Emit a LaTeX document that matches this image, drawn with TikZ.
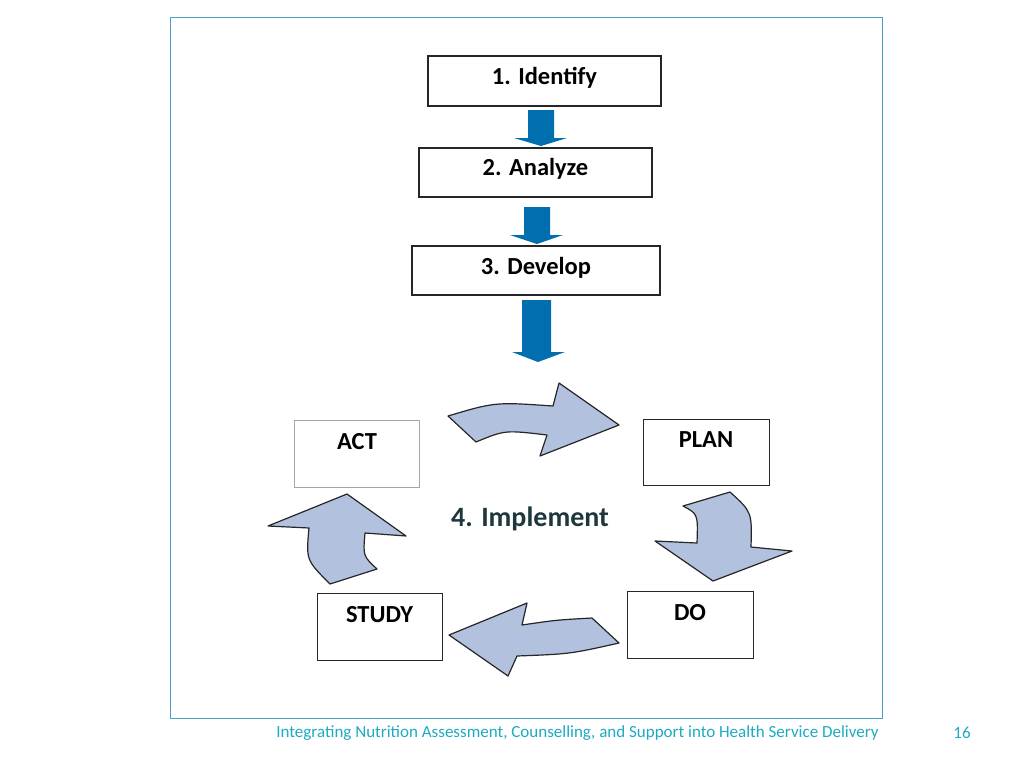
\documentclass[tikz,border=0pt]{standalone}
\usepackage{fontspec}
\setmainfont{Carlito}
\definecolor{frameblue}{RGB}{75,160,200}
\definecolor{footteal}{RGB}{30,170,195}
\definecolor{arrowblue}{RGB}{0,110,175}
\definecolor{cyclefill}{RGB}{178,193,221}
\definecolor{impl}{RGB}{30,55,60}
\begin{document}
\begin{tikzpicture}[x=1pt,y=-1pt,
  stepbox/.style={draw=black!85,line width=1.1pt,fill=white,inner sep=0pt},
  lbl/.style={font=\bfseries\fontsize{24.5}{28}\selectfont,text=black},
  bluearrow/.style={fill=arrowblue,draw=none},
  cyclearrow/.style={fill=cyclefill,draw=black!85,line width=1.2pt,line join=round}]
\useasboundingbox (0,0) rectangle (1024,768);
\draw[frameblue,line width=0.8pt] (170,17) rectangle (882,718);
% top boxes
\node[stepbox,minimum width=233pt,minimum height=50pt] (identify) at (544.5,81) {};
\node[lbl] at (544.5,78) {1. Identify};
\node[stepbox,minimum width=233pt,minimum height=49pt] (analyze) at (535.5,172.5) {};
\node[lbl] at (535.5,169) {2. Analyze};
\node[stepbox,minimum width=248pt,minimum height=49pt] (develop) at (536,270.5) {};
\node[lbl] at (536,268) {3. Develop};
% straight blue arrows
\fill[bluearrow] (528,110) -- (554,110) -- (554,138) -- (567,138) -- (541,146) -- (514,138) -- (528,138) -- cycle;
\fill[bluearrow] (524,207) -- (550,207) -- (550,235) -- (563,235) -- (537,244) -- (510,235) -- (524,235) -- cycle;
\fill[bluearrow] (522,300) -- (551,300) -- (551,352) -- (565,352) -- (538,362) -- (512,352) -- (522,352) -- cycle;
% cycle boxes
\node[draw=black!35,line width=0.8pt,fill=white,minimum width=125pt,minimum height=67pt,inner sep=0pt] (act) at (356.5,453.5) {};
\node[lbl] at (357,442) {ACT};
\node[stepbox,line width=1pt,minimum width=126pt,minimum height=66pt] (plan) at (706,452) {};
\node[lbl] at (706,440) {PLAN};
\node[stepbox,line width=1pt,minimum width=126pt,minimum height=67pt] (do) at (690,624.5) {};
\node[lbl] at (690,613) {DO};
\node[stepbox,line width=1pt,minimum width=125pt,minimum height=67pt] (study) at (379.5,626.5) {};
\node[lbl] at (379.5,615) {STUDY};
\node[font=\bfseries\fontsize{28}{32}\selectfont,text=impl] (implement) at (530,519) {4. Implement};
% curved arrows
\draw[cyclearrow] (448,416) -- (476,442) .. controls (505,430) .. (547,435) -- (540,456) -- (619,425) -- (559,383) -- (553,406) .. controls (495,402) .. cycle;
\draw[cyclearrow] (683,506) -- (730,492) .. controls (752,512) .. (751,547) -- (792,551) -- (713,581) -- (655,541) -- (697,543) .. controls (698,514) .. cycle;
\draw[cyclearrow] (592,618) -- (619,643) .. controls (570,654) .. (517,656) -- (508,676) -- (449,635) -- (527,603) -- (522,625) .. controls (556,620) .. cycle;
\draw[cyclearrow] (377,569) -- (330,584) .. controls (306,560) .. (309,528) -- (268,526) -- (347,494) -- (406,536) -- (365,533) .. controls (363,556) .. cycle;
% footer
\node[font=\fontsize{17}{20}\selectfont,text=footteal] (footer) at (577.5,733) {Integrating Nutrition Assessment, Counselling, and Support into Health Service Delivery};
\node[font=\fontsize{17}{20}\selectfont,text=footteal] (pagenum) at (962,733) {16};
\end{tikzpicture}
\end{document}
